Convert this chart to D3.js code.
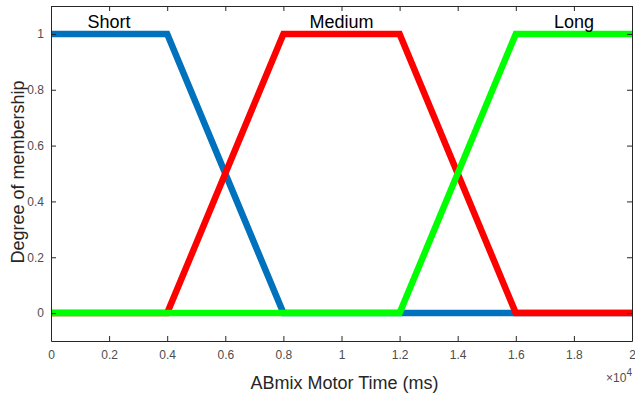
<!DOCTYPE html>
<html><head><meta charset="utf-8">
<script src="https://cdn.jsdelivr.net/npm/d3@7"></script>
<style>body{margin:0;background:#fff;} text{font-family:"Liberation Sans",Arial,sans-serif;}</style>
</head><body>
<svg id="c" width="635" height="401"></svg>
<script>
const xTicks = [0, 2000, 4000, 6000, 8000, 10000, 12000, 14000, 16000, 18000, 20000];
const xTickLabels = ["0","0.2","0.4","0.6","0.8","1","1.2","1.4","1.6","1.8","2"];
const yTicks = [0, 0.2, 0.4, 0.6, 0.8, 1];
const yTickLabels = ["0","0.2","0.4","0.6","0.8","1"];
const shortX = [0, 4000, 8000, 20000];
const shortY = [1, 1, 0, 0];
const mediumX = [0, 4000, 8000, 12000, 16000, 20000];
const mediumY = [0, 0, 1, 1, 0, 0];
const longX = [0, 12000, 16000, 20000];
const longY = [0, 0, 1, 1];
const mfNames = ["Short", "Medium", "Long"];
const mfLabelX = [2000, 10000, 18000];
const mfColors = ["#0072BD", "#FF0000", "#00FF00"];

const svg = d3.select("#c");
const L = 51, R = 632, T = 6, B = 341;
const x = d3.scaleLinear().domain([0, 20000]).range([L, R]);
const y = d3.scaleLinear().domain([-0.1, 1.1]).range([B, T]);

const g = svg.append("g");
const series = [[shortX, shortY], [mediumX, mediumY], [longX, longY]];
const line = d3.line().x(d => x(d[0])).y(d => y(d[1]));
series.forEach((s, i) => {
  const pts = s[0].map((v, j) => [v, s[1][j]]);
  g.append("path").attr("d", line(pts)).attr("fill", "none")
    .attr("stroke", mfColors[i]).attr("stroke-width", 6.5)
    .attr("stroke-linejoin", "miter");
});

// axes
const axCol = "#262626";
const axBottom = d3.axisBottom(x).tickValues(xTicks).tickFormat((d, i) => xTickLabels[i]).tickSizeInner(-5).tickSizeOuter(0).tickPadding(9);
const axTop = d3.axisTop(x).tickValues(xTicks).tickFormat("").tickSizeInner(-5).tickSizeOuter(0);
const axLeft = d3.axisLeft(y).tickValues(yTicks).tickFormat((d, i) => yTickLabels[i]).tickSizeInner(-5).tickSizeOuter(0).tickPadding(7);
const axRight = d3.axisRight(y).tickValues(yTicks).tickFormat("").tickSizeInner(-5).tickSizeOuter(0);
const styleAx = sel => {
  sel.selectAll("path").attr("stroke", axCol).attr("stroke-width", 1);
  sel.selectAll("line").attr("stroke", axCol).attr("stroke-width", 1);
  sel.selectAll("text").attr("fill", "#4d4d4d").attr("font-size", 12).attr("font-family", "Liberation Sans, Arial, sans-serif");
};
svg.append("g").attr("transform", `translate(0,${B})`).call(axBottom).call(styleAx);
svg.append("g").attr("transform", `translate(0,${T})`).call(axTop).call(styleAx);
svg.append("g").attr("transform", `translate(${L},0)`).call(axLeft).call(styleAx);
svg.append("g").attr("transform", `translate(${R},0)`).call(axRight).call(styleAx);

// mf labels
mfNames.forEach((n, i) => {
  svg.append("text").attr("x", x(mfLabelX[i])).attr("y", 28).attr("text-anchor", "middle")
    .attr("font-size", 18).attr("fill", "#000").text(n);
});

// exponent
const ex = svg.append("text").attr("x", R).attr("y", 382).attr("text-anchor", "end").attr("font-size", 12).attr("fill", "#4d4d4d");
ex.append("tspan").text("\u00d710");
ex.append("tspan").attr("dy", -6).attr("font-size", 10).text("4");

// axis labels
svg.append("text").attr("x", (L + R) / 2 + 3).attr("y", 389).attr("text-anchor", "middle")
  .attr("font-size", 18).attr("fill", "#262626").text("ABmix Motor Time (ms)");
svg.append("text").attr("transform", `translate(24,172) rotate(-90)`).attr("text-anchor", "middle")
  .attr("font-size", 18).attr("fill", "#262626").text("Degree of membership");
</script>
</body></html>
